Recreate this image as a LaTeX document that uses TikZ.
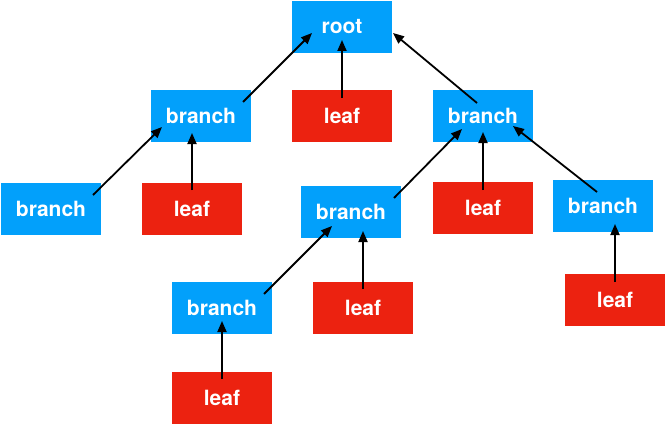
\documentclass[tikz,border=0pt]{standalone}
\usepackage{fontspec}
\setmainfont{TeX Gyre Heros}
\usetikzlibrary{arrows.meta}
\definecolor{branchblue}{HTML}{02A0FB}
\definecolor{leafred}{HTML}{EC2210}
\begin{document}
\begin{tikzpicture}[x=1pt,y=-1pt,
  box/.style={minimum width=100pt,minimum height=52pt,inner sep=0pt,text=white,
    font=\fontsize{21}{23}\selectfont\bfseries},
  branchbox/.style={box,fill=branchblue},
  leafbox/.style={box,fill=leafred},
  arr/.style={line width=1.8pt,-{Triangle[length=11pt,width=9pt]}}]
\useasboundingbox (0,0) rectangle (666,425);
\node [branchbox] (root) at (342,27) {root};
\node [branchbox] (b1) at (201,116) {branch};
\node [leafbox] (l1) at (342,116) {leaf};
\node [branchbox] (b2) at (483,116) {branch};
\node [branchbox] (b3) at (51,209) {branch};
\node [leafbox] (l2) at (192,209) {leaf};
\node [branchbox] (b4) at (351,212) {branch};
\node [leafbox] (l3) at (483,208) {leaf};
\node [branchbox] (b5) at (603,206) {branch};
\node [leafbox] (l4) at (615,300) {leaf};
\node [branchbox] (b6) at (222,308) {branch};
\node [leafbox] (l5) at (363,308) {leaf};
\node [leafbox] (l6) at (222,398) {leaf};
\draw [arr] ([shift={(42,-14)}]b1.center) -- ([shift={(-30,6)}]root.center);
\draw [arr] ([shift={(0,-18)}]l1.center) -- ([shift={(0,13)}]root.center);
\draw [arr] ([shift={(-6,-13)}]b2.center) -- ([shift={(51,6)}]root.center);
\draw [arr] ([shift={(42,-14)}]b3.center) -- ([shift={(-39,11)}]b1.center);
\draw [arr] ([shift={(0,-19)}]l2.center) -- ([shift={(-9,17)}]b1.center);
\draw [arr] ([shift={(43,-14)}]b4.center) -- ([shift={(-21,13)}]b2.center);
\draw [arr] ([shift={(0,-18)}]l3.center) -- ([shift={(0,16)}]b2.center);
\draw [arr] ([shift={(-6,-14)}]b5.center) -- ([shift={(30,10)}]b2.center);
\draw [arr] ([shift={(0,-18)}]l4.center) -- ([shift={(12,18)}]b5.center);
\draw [arr] ([shift={(42,-14)}]b6.center) -- ([shift={(-19,14)}]b4.center);
\draw [arr] ([shift={(0,-19)}]l5.center) -- ([shift={(12,19)}]b4.center);
\draw [arr] ([shift={(0,-19)}]l6.center) -- ([shift={(0,13)}]b6.center);
\end{tikzpicture}
\end{document}
